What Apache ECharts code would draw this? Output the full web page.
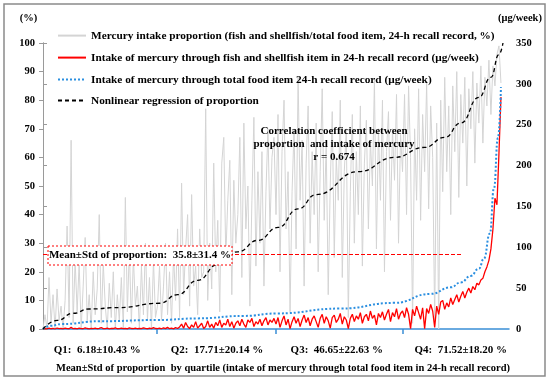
<!DOCTYPE html>
<html>
<head>
<meta charset="utf-8">
<script src="https://cdn.jsdelivr.net/npm/echarts@6/dist/echarts.min.js"></script>
<style>html,body{margin:0;padding:0;background:#fff}#c{width:550px;height:381px}</style>
</head>
<body>
<div id="c"></div>
<script>
// ---- data (rank = participants ordered by total-food mercury intake) ----
const seriesNames = [
  'Mercury intake proportion (fish and shellfish/total food item, 24-h recall record, %)',
  'Intake of mercury through fish and shellfish item in 24-h recall record (\u03bcg/week)',
  'Intake of mercury through total food item 24-h recall record (\u03bcg/week)',
  'Nonlinear regression of proportion'
];
// proportion (%) per ranked record
const proportionPct = [
  0,5,0,18,2,12,0,14,3,8, 0,10,36,4,66,2,24,6,23,0, 15,32,3,12,0,20,5,14,40,2, 23,8,0,16,4,20,0,12,3,18, 0,46,6,28,2,25,8,15,0,22, 5,30,3,18,0,24,4,
  8,22,3,15,30,5,20,2,26,10, 35,4,51,12,28,40,8,47,15,22, 5,35,18,20,77,10,30,14,58,20, 38,6,58,67,25,45,59,12,52,30, 40,67,18,72,35,50,8,45,74,22, 55,30,62,15,48,70,35,60,67,
  40,75,20,62,80,35,55,6,48,70, 28,88,45,66,15,58,78,30,62,40, 72,20,55,84,38,65,12,50,76,25, 60,45,80,18,55,70,4,48,75,30, 62,40,78,22,58,73,35,66,50,87, 28,70,45,80,20,62,76,38,70,52, 82,30,68,
  55,82,40,85,60,2,70,45,84,38, 75,55,86,42,78,60,3,72,0,80, 48,88,55,78,40,85,62,90,46,82, 65,88,50,84,70,90,58,86,72,92, 65,88,78,94,75,92,85,96,99,86
];
// fish & shellfish intake (ug/week) per ranked record
const fishIntake = [
  0,0.5,0.2,1,0.3,0.8,0,1.2,0.4,0.6, 0.2,1,0.5,0.3,2,0.4,0.8,0.2,1,0.5, 0.3,1.5,0.6,0.2,0.9,0.4,1.2,0.3,0.7,1.8, 0.5,0.4,1,0.2,0.8,0.6,1.3,0.3,0.5,1, 0.4,0.9,0.2,1.5,0.6,0.4,1.1,0.3,0.8,0.5, 1.4,0.7,0.3,1,0.5,1.6,0.6,
  0.5,1,0.3,1.5,0.5,2,0.4,1,0.2,1.8, 0.6,2.5,6,1,8,3,0.5,5,2,9, 1,4,7,0.5,3,10,2,6,1,8, 4,11,2,7,5,12,3,9,1,7, 10,4,12,6,2,11,8,13,3,9, 6,12,4,10,14,5,11,8,13,
  6,14,2,10,16,5,12,0.5,9,15, 7,13,3,11,17,8,14,4,12,16, 9,2,13,18,7,15,10,1,14,17, 8,12,19,6,15,11,0.5,13,18,9, 16,12,20,7,15,18,10,22,13,17, 5,19,14,21,11,18,24,9,20,15, 25,12,19,
  22,14,26,18,0.5,24,16,28,20,12, 26,0.5,25,19,30,22,2,28,18,33, 35,24,32,27,38,30,36,42,33,40, 46,38,45,50,44,52,48,56,54,60, 62,70,76,84,98,122,160,152,215,284
];
// total food intake (ug/week): [rank, value]
const totalIntake = [[0,0],[4,4],[9,6],[28,9.5],[57,11],[77,13],[100,16],[116,19],[148,25],[175,32],[193,43],[203,51],[208,57],[213,65],[217,74],[219.5,86],[222.5,117],[224.5,172],[226.5,234],[228,296]];
// regression of proportion (%): [rank, value]
const regression = [[0,0],[7,3],[15,5.5],[23,7],[38,7.5],[58,9],[67,12],[77,17],[87,22.5],[97,27],[107,31],[117,35.5],[127,42],[136,47],[157,55],[175,60],[190,63.5],[200,67],[208,72],[217,81],[223,88],[227,96],[229,100]];
const meanLineValue = 26;
const meanLineEnd = 209;
const rankMax = 232;
const leftTicks = {min:0, max:100, interval:10};
const rightTicks = {min:0, max:350, interval:50};
const quartileBounds = [56.7, 116, 179.2];
const quartileLabelPos = [27, 86.6, 146.3, 208];
const quartileLabels = ['Q1:  6.18\u00b110.43 %', 'Q2:  17.71\u00b120.14 %', 'Q3:  46.65\u00b122.63 %', 'Q4:  71.52\u00b118.20 %'];
const meanText = 'Mean\u00b1Std of proportion:  35.8\u00b131.4 %';
const corrText = 'Correlation coefficient between\nproportion  and intake of mercury\nr = 0.674';
const bottomTitle = 'Mean\u00b1Std of proportion  by quartile (intake of mercury through total food item in 24-h recall record)';

const FF = '"Liberation Serif","Times New Roman",serif';
const chart = echarts.init(document.getElementById('c'), null, {renderer:'canvas'});
const axisGray = '#9a9a9a';
const qBlue = '#3a8fd6';
const legendText = {fontFamily:FF,fontWeight:'bold',fontSize:11.3,color:'#000'};
const legendTops = [25, 47, 69, 90];
chart.setOption({
  animation:false,
  backgroundColor:'#fff',
  textStyle:{fontFamily:FF},
  grid:{left:43,right:41,top:43,bottom:52},
  legend: seriesNames.map((n,k)=>({
    left:52, top:legendTops[k], orient:'vertical', itemWidth:28, itemHeight:14,
    selectedMode:false, data:[n], itemStyle:{opacity:0}, textStyle:legendText
  })),
  xAxis:[
    {type:'value', min:0, max:rankMax, show:false},
    {type:'value', min:0, max:rankMax, position:'bottom', offset:9,
     axisLine:{show:true,lineStyle:{color:qBlue,width:1.5}},
     axisTick:{show:true,customValues:quartileBounds,length:5,lineStyle:{color:qBlue,width:1.5}},
     axisLabel:{customValues:quartileLabelPos, margin:7, fontFamily:FF, fontWeight:'bold', fontSize:11, color:'#000',
       formatter:function(v, idx){ const k = quartileLabelPos.indexOf(v); return quartileLabels[k>=0?k:idx] || ''; }},
     splitLine:{show:false}}
  ],
  yAxis:[
    {type:'value', position:'left', min:leftTicks.min, max:leftTicks.max, interval:leftTicks.interval,
     axisLine:{show:true,lineStyle:{color:axisGray}}, axisTick:{show:true,length:4,lineStyle:{color:axisGray}},
     axisLabel:{fontFamily:FF,fontWeight:'bold',fontSize:10.5,color:'#000',margin:8}, splitLine:{show:false}},
    {type:'value', position:'right', min:rightTicks.min, max:rightTicks.max, interval:rightTicks.interval,
     axisLine:{show:true,lineStyle:{color:axisGray}}, axisTick:{show:true,length:4,lineStyle:{color:axisGray}},
     axisLabel:{fontFamily:FF,fontWeight:'bold',fontSize:10.5,color:'#000',margin:7}, splitLine:{show:false}}
  ],
  series:[
    {name:seriesNames[0], type:'line', xAxisIndex:0, yAxisIndex:0, symbol:'none', z:1,
     data:proportionPct.map((v,i)=>[i,v]),
     lineStyle:{color:'#d4d4d4',width:1}, itemStyle:{color:'#d4d4d4'},
     markLine:{silent:true, symbol:'none', label:{show:false},
       lineStyle:{color:'#ff0000',type:'dashed',width:1},
       data:[[{coord:[0,meanLineValue]},{coord:[meanLineEnd,meanLineValue]}]]}},
    {name:seriesNames[1], type:'line', xAxisIndex:0, yAxisIndex:1, symbol:'none', z:3,
     data:fishIntake.map((v,i)=>[i,v]),
     lineStyle:{color:'#ff0000',width:1.3}, itemStyle:{color:'#ff0000'}},
    {name:seriesNames[2], type:'line', xAxisIndex:0, yAxisIndex:1, symbol:'none', z:4,
     smooth:true, smoothMonotone:'x', data:totalIntake,
     lineStyle:{color:'#2b8fe0',width:2,type:'dotted'}, itemStyle:{color:'#2b8fe0'}},
    {name:seriesNames[3], type:'line', xAxisIndex:0, yAxisIndex:0, symbol:'none', z:5,
     smooth:true, smoothMonotone:'x', data:regression,
     lineStyle:{color:'#000',width:1.3,type:[4,3]}, itemStyle:{color:'#000'}}
  ],
  graphic:[
    {type:'rect', silent:true, z:-10, shape:{x:4,y:4,width:541,height:372}, style:{fill:null,stroke:'#8a8a8a',lineWidth:1.5}},
    {type:'text', silent:true, z:100, x:28.5, y:18, style:{text:'(%)', font:'bold 10.5px '+FF, fill:'#000', textAlign:'center', textVerticalAlign:'middle'}},
    {type:'text', silent:true, z:100, x:520, y:18, style:{text:'(\u03bcg/week)', font:'bold 10.5px '+FF, fill:'#000', textAlign:'center', textVerticalAlign:'middle'}},
    {type:'text', silent:true, z:100, x:334, y:125, style:{text:corrText, font:'bold 11px '+FF, lineHeight:13, fill:'#000', textAlign:'center', textVerticalAlign:'top'}},
    {type:'rect', silent:true, z:100, shape:{x:48,y:246,width:184,height:19}, style:{fill:'#fff',stroke:'#ff0000',lineWidth:1,lineDash:[2,2]}},
    {type:'text', silent:true, z:101, x:140, y:255.5, style:{text:meanText, font:'bold 11px '+FF, fill:'#000', textAlign:'center', textVerticalAlign:'middle'}},
    {type:'text', silent:true, z:100, x:283, y:368, style:{text:bottomTitle, font:'bold 10.5px '+FF, fill:'#000', textAlign:'center', textVerticalAlign:'middle'}}
  ]
});
</script>
</body>
</html>
